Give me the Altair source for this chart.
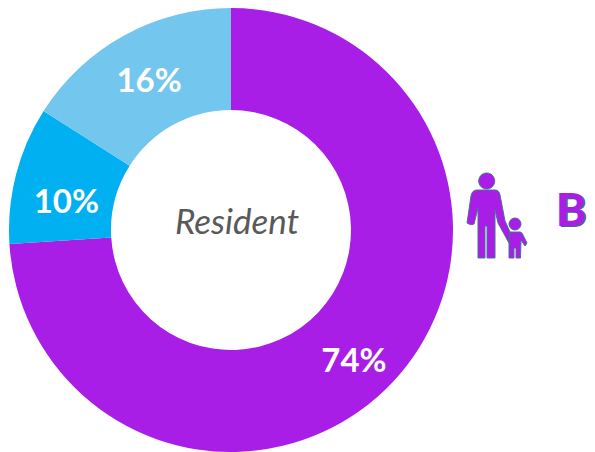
import altair as alt
import pandas as pd

labels = ["74%", "10%", "16%"]
shares = [74, 10, 16]
colors = ["#A81EE6", "#00B0F0", "#73C6ED"]
order = [0, 1, 2]
top_label = ["", "", "16%"]
left_label = ["", "10%", ""]
major_label = ["74%", "", ""]
center_text = "Resident"
badge = "B"

# Icon outline: parent and child, drawn as one custom symbol
ICON = (
    # parent head
    "M486.7,173 a8,8 0 1,0 0.01,0 Z "
    # parent body with both arms and the hand reaching the child
    "M477,190 L495,190 Q499,190 500,195 L505,221 L510,232 L509,243 L498,223 "
    "L495,210 L495,258 L487,258 L487,226 L485,226 L485,258 L478,258 L478,208 "
    "L474,224 Q471,226 467,223 L471,196 Q472,190 477,190 Z "
    # child head
    "M515,218 a6,6 0 1,0 0.01,0 Z "
    # child body
    "M510,232 L520,232 Q522,232 523,235 L527,243 L525,246 L521,240 L520.5,258 "
    "L516,258 L516,248 L514,248 L514,258 L509,258 L509,243 Z"
)

df = pd.DataFrame({"label": labels, "share": shares, "idx": order,
                   "top": top_label, "left": left_label, "major": major_label})

W, H = 579, 444
CX, CY = 223, 222

base = alt.Chart(df).encode(
    theta=alt.Theta("share:Q", stack=True),
    order=alt.Order("idx:O"),
    x=alt.value(CX),
    y=alt.value(CY),
)

arcs = base.mark_arc(outerRadius=222, innerRadius=120).encode(
    color=alt.Color("label:N", scale=alt.Scale(domain=labels, range=colors), legend=None),
)

text_props = dict(font="Lato", fontWeight="bold", fontSize=33, color="white", align="center", baseline="middle")
label_top = base.mark_text(radius=170, dy=1, **text_props).encode(text="top:N")
label_left = base.mark_text(radius=170, dy=15, **text_props).encode(text="left:N")
label_major = base.mark_text(radius=170, dx=-1, dy=16, **text_props).encode(text="major:N")

single = alt.Chart(pd.DataFrame({"t": [center_text], "b": [badge]}))

center = single.mark_text(
    font="Lato", fontStyle="italic", fontSize=35, color="#595959", align="center", baseline="middle"
).encode(x=alt.value(229), y=alt.value(215), text="t:N")

icon = single.mark_point(
    shape=ICON, size=4, filled=True, fill="#A81EE6", stroke="#4A6F95", strokeWidth=1, opacity=1
).encode(x=alt.value(-8), y=alt.value(-8))

badge_props = dict(font="Lato", fontWeight=900, fontSize=46, align="center", baseline="middle")
badge_shadow = single.mark_text(color="#3A6A85", **badge_props).encode(
    x=alt.value(564.5), y=alt.value(205), text="b:N"
)
badge_front = single.mark_text(color="#A81EE6", **badge_props).encode(
    x=alt.value(563), y=alt.value(203.5), text="b:N"
)

chart = alt.layer(arcs, label_top, label_left, label_major, center, icon, badge_shadow, badge_front).properties(
    width=W, height=H, padding=0, autosize=alt.AutoSizeParams(type="none"),
    background="white",
).configure_view(stroke=None)

chart.save("out.html", embed_options={"renderer": "svg", "actions": False})
